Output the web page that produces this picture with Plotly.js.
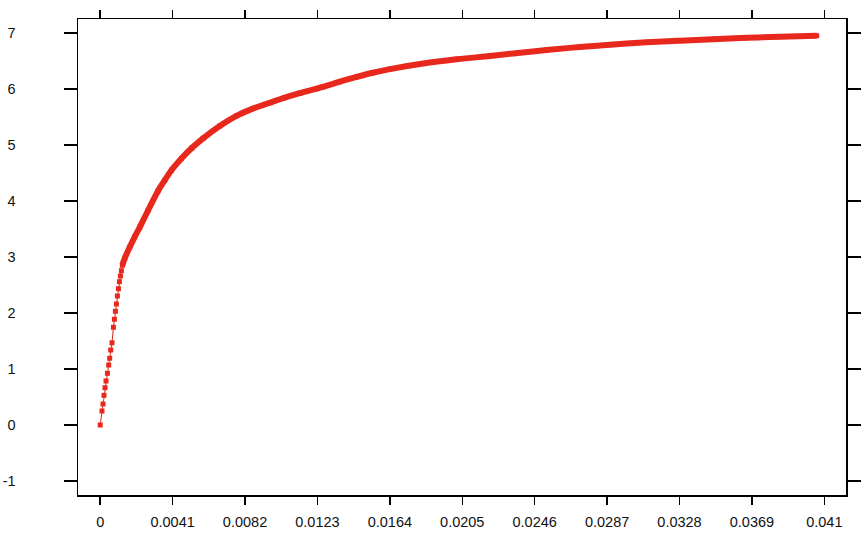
<!DOCTYPE html>
<html>
<head>
<meta charset="utf-8">
<script src="https://cdn.plot.ly/plotly-3.0.1.min.js"></script>
<style>html,body{margin:0;padding:0;background:#fff;}#chart{width:868px;height:535px;}</style>
</head>
<body>
<div id="chart"></div>
<script>
// Steep start: individually visible markers
const xStart = [0, 0.000102, 0.000159, 0.000215, 0.000272, 0.000329, 0.000408, 0.000481, 0.000538, 0.000595, 0.000668, 0.000748, 0.000804, 0.000861, 0.000918, 0.000974, 0.001031, 0.001088, 0.001144, 0.001201, 0.001258];
const yStart = [0, 0.25, 0.375, 0.53, 0.666, 0.786, 0.923, 1.071, 1.191, 1.339, 1.468, 1.745, 1.888, 2.030, 2.161, 2.304, 2.434, 2.559, 2.661, 2.755, 2.857];
// Dense part: markers overlap into a solid band
const xDense = [0.001258, 0.001388, 0.001671, 0.001954, 0.002237, 0.002708, 0.003274, 0.003654, 0.004033, 0.004600, 0.005183, 0.005823, 0.006769, 0.007715, 0.008638, 0.009601, 0.010451, 0.011301, 0.012620, 0.013566, 0.014512, 0.015436, 0.016399, 0.018285, 0.020177, 0.022063, 0.023383, 0.025275, 0.027161, 0.029047, 0.030939, 0.032825, 0.034711, 0.036604, 0.038490, 0.040569];
const yDense = [2.857, 2.975, 3.175, 3.360, 3.530, 3.830, 4.180, 4.370, 4.550, 4.760, 4.946, 5.120, 5.340, 5.520, 5.650, 5.755, 5.845, 5.925, 6.040, 6.130, 6.215, 6.290, 6.355, 6.455, 6.530, 6.590, 6.634, 6.696, 6.750, 6.795, 6.834, 6.863, 6.889, 6.914, 6.934, 6.952];
// Axis ticks
const xTickVals = [0, 0.0041, 0.0082, 0.0123, 0.0164, 0.0205, 0.0246, 0.0287, 0.0328, 0.0369, 0.041];
const xTickText = ["0", "0.0041", "0.0082", "0.0123", "0.0164", "0.0205", "0.0246", "0.0287", "0.0328", "0.0369", "0.041"];
const yTickVals = [-1, 0, 1, 2, 3, 4, 5, 6, 7];
const yTickText = ["-1", "0", "1", "2", "3", "4", "5", "6", "7"];

const red = '#e8281c';
const traces = [
  {x: xStart, y: yStart, type: 'scatter', mode: 'lines+markers',
   line: {color: '#d8261c', width: 1},
   marker: {symbol: 'square', size: 5, color: red}, hoverinfo: 'none'},
  {x: xDense, y: yDense, type: 'scatter', mode: 'lines+markers',
   line: {color: red, width: 6, shape: 'spline', smoothing: 1},
   marker: {symbol: 'square', size: 5, color: red}, hoverinfo: 'none'}
];
const font = {family: 'Liberation Sans, Arial, sans-serif', size: 14.5, color: '#111'};
const layout = {
  width: 868, height: 535,
  margin: {l: 78, r: 22, t: 19, b: 40, pad: 0},
  paper_bgcolor: '#fff', plot_bgcolor: '#fff',
  showlegend: false,
  font: font,
  xaxis: {range: [-0.001257, 0.042228], tickmode: 'array', tickvals: xTickVals, ticktext: xTickText,
    showgrid: false, zeroline: false, showline: true, linecolor: '#000', linewidth: 1.5, mirror: 'ticks',
    ticks: 'outside', ticklen: 8, tickwidth: 1.5, tickcolor: '#000', tickfont: font, ticklabelstandoff: 5},
  yaxis: {range: [-1.25, 7.25], tickmode: 'array', tickvals: yTickVals, ticktext: yTickText,
    showgrid: false, zeroline: false, showline: true, linecolor: '#000', linewidth: 1.5, mirror: 'ticks',
    ticks: 'outside', ticklen: 13, tickwidth: 1.5, tickcolor: '#000', tickfont: font, ticklabelstandoff: 45}
};
Plotly.newPlot('chart', traces, layout, {staticPlot: true, displayModeBar: false});
</script>
</body>
</html>
